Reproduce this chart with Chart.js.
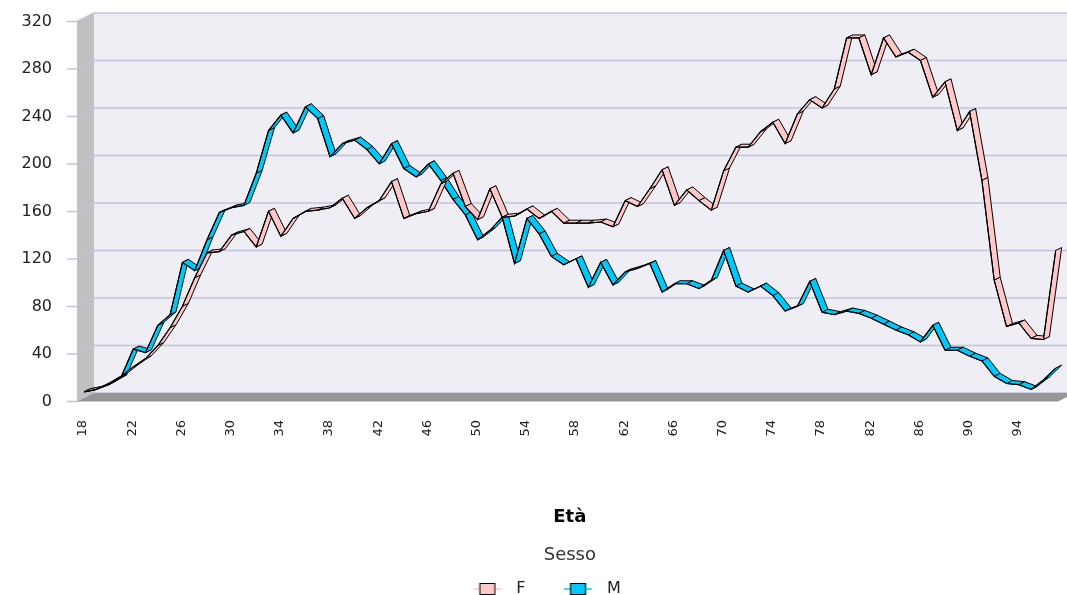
<!DOCTYPE html>
<html>
<head>
<meta charset="utf-8">
<script src="https://cdn.jsdelivr.net/npm/chart.js@4.4.1/dist/chart.umd.min.js"></script>
<style>
  html, body { margin: 0; padding: 0; background: #ffffff; overflow: hidden; }
  #wrap { position: relative; width: 1067px; height: 595px; }
</style>
</head>
<body>
<div id="wrap"><canvas id="c"></canvas></div>
<script>
// ---- data ----
const eta = ['18','19','20','21','22','23','24','25','26','27',
             '28','29','30','31','32','33','34','35','36','37',
             '38','39','40','41','42','43','44','45','46','47',
             '48','49','50','51','52','53','54','55','56','57',
             '58','59','60','61','62','63','64','65','66','67',
             '68','69','70','71','72','73','74','75','76','77',
             '78','79','80','81','82','83','84','85','86','87',
             '88','89','90','91','92','93','94','95','96','97'];

const femmine = [1, 3, 8, 14, 22, 29, 40, 55, 73, 97,
                 118, 119, 133, 136, 123, 153, 132, 147, 153, 154,
                 156, 164, 147, 156, 162, 178, 147, 151, 153, 176,
                 185, 157, 146, 172, 148, 149, 155, 147, 153, 143,
                 143, 143, 144, 140, 162, 157, 172, 188, 158, 171,
                 162, 154, 187, 207, 207, 220, 228, 210, 235, 247,
                 240, 256, 299, 299, 268, 299, 283, 287, 280, 249,
                 262, 221, 237, 179, 95, 56, 59, 46, 45, 120];

const maschi = [1, 3, 7, 13, 37, 34, 57, 66, 110, 103,
                129, 152, 156, 158, 185, 221, 234, 219, 241, 231,
                199, 210, 213, 205, 193, 210, 189, 182, 193, 179,
                163, 150, 129, 137, 148, 109, 147, 134, 115, 108,
                113, 89, 110, 91, 102, 105, 109, 85, 92, 92,
                88, 95, 120, 90, 85, 90, 82, 69, 73, 94,
                68, 66, 69, 67, 63, 58, 53, 49, 43, 57,
                36, 36, 31, 27, 14, 8, 7, 3, 11, 21];

const xTickLabels = ['18','22','26','30','34','38','42','46','50','54',
                     '58','62','66','70','74','78','82','86','90','94'];
const yTickValues = [0, 40, 80, 120, 160, 200, 240, 280, 320];

const seriesNames = ['F', 'M'];
const seriesColors = ['#ffc8c8', '#00c8f8'];

const FONT = 'DejaVu Sans';

// 3D-look backdrop: back wall, left wall, floor, gridlines from the y scale
const backdrop = {
  id: 'backdrop',
  beforeDraw(chart) {
    const { ctx, chartArea: ca, scales: { y } } = chart;
    const W = chart.width;
    const top = y.getPixelForValue(320), bot = y.getPixelForValue(0);
    const fx = ca.left - 7, bx = ca.left + 10, dy = 8.5;
    ctx.save();
    ctx.fillStyle = '#eeeef4';
    ctx.fillRect(bx, top, W - bx, bot - top);
    ctx.fillStyle = '#c0c0c0';
    ctx.beginPath();
    ctx.moveTo(fx, top + dy); ctx.lineTo(bx, top); ctx.lineTo(bx, bot); ctx.lineTo(fx, bot + dy);
    ctx.closePath(); ctx.fill();
    ctx.strokeStyle = '#c3c3dd';
    ctx.lineWidth = 1.4;
    y.ticks.forEach(t => {
      const py = y.getPixelForValue(t.value);
      ctx.beginPath();
      ctx.moveTo(ca.left - 17, py + dy);
      ctx.lineTo(fx, py + dy);
      ctx.lineTo(bx, py);
      ctx.lineTo(W, py);
      ctx.stroke();
    });
    ctx.fillStyle = '#969696';
    ctx.beginPath();
    ctx.moveTo(fx, bot + dy); ctx.lineTo(bx, bot); ctx.lineTo(ca.right + 19.3, bot); ctx.lineTo(ca.right + 2.3, bot + dy);
    ctx.closePath(); ctx.fill();
    ctx.restore();
  }
};

// ribbon look for each line, built on the points the library computed
const ribbon = {
  id: 'ribbon',
  beforeDatasetDraw(chart, args) {
    const pts = args.meta.data;
    const ds = chart.data.datasets[args.index];
    const ctx = chart.ctx;
    ctx.save();
    ctx.fillStyle = ds.backgroundColor;
    ctx.strokeStyle = '#000';
    ctx.lineWidth = 1;
    ctx.lineJoin = 'round';
    for (let i = 0; i < pts.length - 1; i++) {
      const a = pts[i], b = pts[i + 1];
      ctx.beginPath();
      ctx.moveTo(a.x, a.y);
      ctx.lineTo(b.x, b.y);
      ctx.lineTo(b.x + 6, b.y - 3);
      ctx.lineTo(a.x + 6, a.y - 3);
      ctx.closePath();
      ctx.fill();
      ctx.stroke();
    }
    ctx.restore();
  }
};

function legendGlyph(color) {
  const c = document.createElement('canvas');
  c.width = 64; c.height = 14;
  const g = c.getContext('2d');
  const cx = 47.75;
  g.strokeStyle = color; g.lineWidth = 1.5;
  g.beginPath(); g.moveTo(cx - 14, 7); g.lineTo(cx + 14, 7); g.stroke();
  g.fillStyle = color;
  g.fillRect(cx - 8, 1, 16, 12);
  g.strokeStyle = '#000'; g.lineWidth = 1;
  g.strokeRect(cx - 7.5, 1.5, 15, 11);
  return c;
}

new Chart(document.getElementById('c'), {
  type: 'line',
  data: {
    labels: eta,
    datasets: [
      { label: seriesNames[0], data: femmine, borderColor: '#000', backgroundColor: seriesColors[0],
        borderWidth: 1.2, pointRadius: 0, fill: false, tension: 0 },
      { label: seriesNames[1], data: maschi, borderColor: '#000', backgroundColor: seriesColors[1],
        borderWidth: 1.2, pointRadius: 0, fill: false, tension: 0 }
    ]
  },
  options: {
    responsive: true,
    maintainAspectRatio: false,
    animation: false,
    layout: { padding: { top: 13, bottom: -12, left: 0, right: 11.3 } },
    scales: {
      x: {
        type: 'category',
        offset: false,
        grid: { display: false, drawTicks: false },
        border: { display: false },
        ticks: {
          autoSkip: false, maxRotation: 90, minRotation: 90, padding: 27, labelOffset: -1,
          font: { family: FONT, size: 13 }, color: '#222',
          callback(v) { const l = this.getLabelForValue(v); return xTickLabels.includes(l) ? l : ''; }
        },
        title: { display: true, text: 'Età', color: '#000',
                 font: { family: FONT, size: 18, weight: 'bold' }, padding: { top: 0, bottom: 16.6 } },
        afterFit(s) { s.height = 151.4; s.paddingLeft = 0; s.paddingRight = 0; }
      },
      y: {
        min: 0, max: 320,
        grid: { display: false, drawTicks: false },
        border: { display: false },
        afterBuildTicks(s) { s.ticks = yTickValues.map(v => ({ value: v })); },
        ticks: { padding: 32, labelOffset: 8.5, font: { family: FONT, size: 16 }, color: '#222' },
        afterFit(s) { s.width = 84; s.paddingTop = 0; s.paddingBottom = 0; }
      }
    },
    plugins: {
      legend: {
        position: 'bottom', weight: 3000, fullSize: true,
        labels: {
          usePointStyle: true, pointStyleWidth: 73.5, padding: 0,
          font: { family: FONT, size: 16 }, color: '#222',
          generateLabels(chart) {
            return chart.data.datasets.map((ds, i) => ({
              text: ds.label, fillStyle: seriesColors[i], strokeStyle: '#000', lineWidth: 1,
              pointStyle: legendGlyph(seriesColors[i]), hidden: false, datasetIndex: i, fontColor: '#222'
            }));
          }
        }
      },
      title: {
        display: true, text: 'Sesso', position: 'bottom', fullSize: false,
        font: { family: FONT, size: 18, weight: 'normal' }, color: '#333',
        padding: { top: 0, bottom: 15 }
      },
      tooltip: { enabled: false }
    }
  },
  plugins: [backdrop, ribbon]
});
</script>
</body>
</html>
